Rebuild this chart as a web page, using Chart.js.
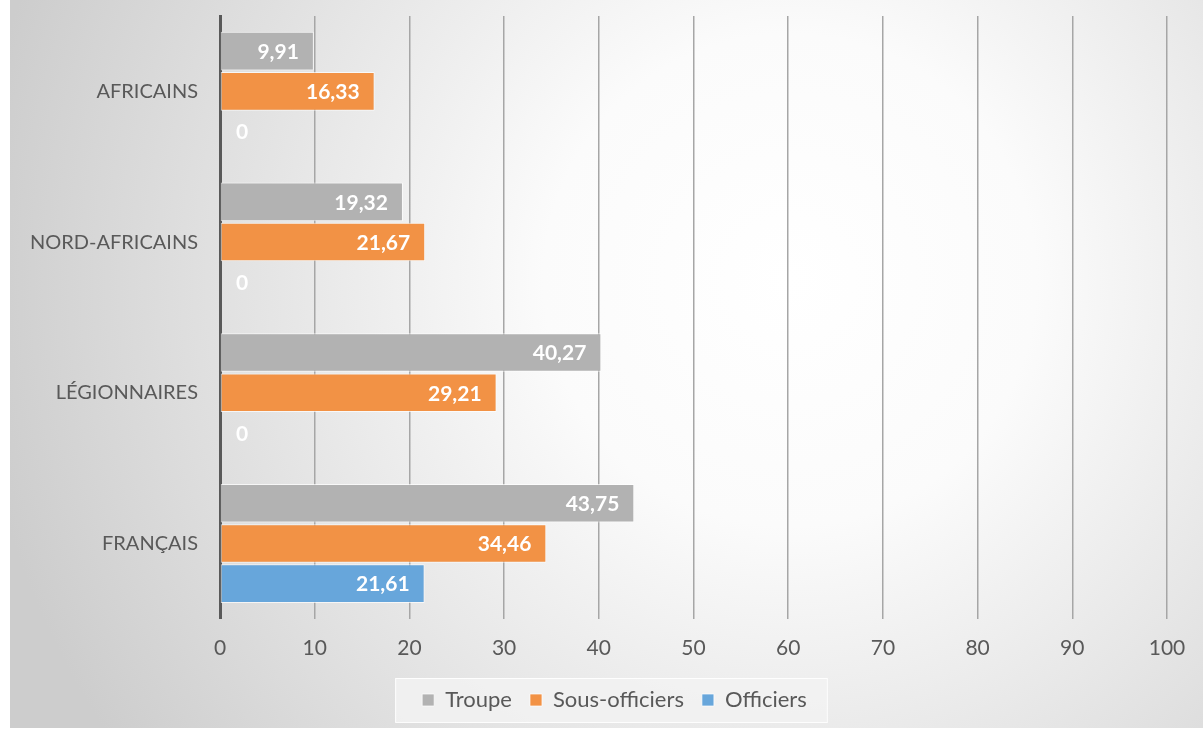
<!DOCTYPE html>
<html lang="fr">
<head>
  <meta charset="UTF-8">
  <title>Troupe / Sous-officiers / Officiers</title>
  <script src="https://cdn.jsdelivr.net/npm/chart.js"></script>
  <style>
    body { margin: 0; padding: 0; background: #ffffff; }
    #wrap { width: 1203px; height: 731px; }
  </style>
</head>
<body>
  <div id="wrap"><canvas id="chart" width="1203" height="731"></canvas></div>

  <script>
    // data
    const categories = ["AFRICAINS", "NORD-AFRICAINS", "LÉGIONNAIRES", "FRANÇAIS"];
    const troupe = [9.91, 19.32, 40.27, 43.75];
    const sousOfficiers = [16.33, 21.67, 29.21, 34.46];
    const officiers = [0, 0, 0, 21.61];
    const xTicks = [0, 10, 20, 30, 40, 50, 60, 70, 80, 90, 100];

    const FONT = "Lato, 'Open Sans', sans-serif";
    const TEXT = "#595959";
    const LEGEND_SHIFT = 26;

    // background: white edge + soft radial grey, plus legend frame
    const bgPlugin = {
      id: "bg",
      afterLayout(chart) {
        // legend sits a bit right of centre in the original
        const lg = chart.legend;
        lg.left += LEGEND_SHIFT;
        lg.right += LEGEND_SHIFT;
        lg.legendHitBoxes.forEach(h => { h.left += LEGEND_SHIFT; });
      },
      beforeDraw(chart) {
        const ctx = chart.ctx;
        ctx.save();
        ctx.fillStyle = "#ffffff";
        ctx.fillRect(0, 0, chart.width, chart.height);
        const g = ctx.createRadialGradient(790, 280, 0, 790, 280, 820);
        g.addColorStop(0, "#ffffff");
        g.addColorStop(0.3, "#fbfbfb");
        g.addColorStop(1, "#cdcdcd");
        ctx.fillStyle = g;
        ctx.fillRect(10, 0, chart.width - 10, chart.height - 3);

        const lg = chart.legend;
        if (lg && lg.legendHitBoxes.length) {
          const first = lg.legendHitBoxes[0];
          const last = lg.legendHitBoxes[lg.legendHitBoxes.length - 1];
          const x0 = first.left - 27, x1 = last.left + last.width + 20;
          const y0 = first.top - 11, y1 = first.top + first.height + 11;
          ctx.fillStyle = "rgba(242,242,242,0.85)";
          ctx.fillRect(x0, y0, x1 - x0, y1 - y0);
          ctx.strokeStyle = "rgba(255,255,255,0.9)";
          ctx.lineWidth = 1;
          ctx.strokeRect(x0 + 0.5, y0 + 0.5, x1 - x0, y1 - y0);
        }
        ctx.restore();
      }
    };

    // white value labels at the inner end of each bar
    const labelPlugin = {
      id: "valueLabels",
      afterDatasetsDraw(chart) {
        const ctx = chart.ctx;
        ctx.save();
        ctx.font = "bold 21px " + FONT;
        ctx.fillStyle = "#ffffff";
        ctx.textBaseline = "middle";
        ctx.textAlign = "right";
        chart.data.datasets.forEach((ds, i) => {
          chart.getDatasetMeta(i).data.forEach((bar, j) => {
            const txt = ds.data[j].toFixed(2).replace(".", ",").replace(/,00$/, "");
            const w = ctx.measureText(txt).width;
            const x = Math.max(bar.x - 15, bar.base + 16 + w);
            ctx.fillText(txt, x, bar.y + 1);
          });
        });
        ctx.restore();
      }
    };

    new Chart(document.getElementById("chart"), {
      type: "bar",
      data: {
        labels: categories,
        datasets: [
          { label: "Troupe", data: troupe, backgroundColor: "#b2b2b2" },
          { label: "Sous-officiers", data: sousOfficiers, backgroundColor: "#f29245" },
          { label: "Officiers", data: officiers, backgroundColor: "#67a6db" }
        ]
      },
      options: {
        indexAxis: "y",
        responsive: false,
        animation: false,
        datasets: {
          bar: {
            categoryPercentage: 0.8,
            barPercentage: 0.96,
            borderColor: "rgba(255,255,255,0.7)",
            borderWidth: 1,
            borderSkipped: false
          }
        },
        layout: { padding: { left: 10, right: 36, top: 16, bottom: 10 } },
        plugins: {
          legend: {
            position: "bottom",
            labels: {
              color: TEXT,
              font: { family: FONT, size: 22 },
              boxWidth: 12,
              boxHeight: 12,
              padding: 18
            }
          },
          tooltip: { enabled: false }
        },
        scales: {
          x: {
            min: 0,
            max: 100,
            afterBuildTicks(axis) { axis.ticks = xTicks.map(v => ({ value: v })); },
            afterFit(axis) { axis.height -= 7; },
            grid: { color: "#a6a6a6", lineWidth: 1.5, drawTicks: false },
            border: { display: false },
            ticks: { color: TEXT, font: { family: FONT, size: 21 }, padding: 17 }
          },
          y: {
            afterFit(axis) {
              axis.width = 210;
              axis.paddingTop = 0;
              axis.paddingBottom = 0;
            },
            grid: { display: false },
            border: { display: true, color: "#595959", width: 3 },
            ticks: { color: TEXT, font: { family: FONT, size: 20 }, padding: 14 }
          }
        }
      },
      plugins: [bgPlugin, labelPlugin]
    });
  </script>
</body>
</html>
